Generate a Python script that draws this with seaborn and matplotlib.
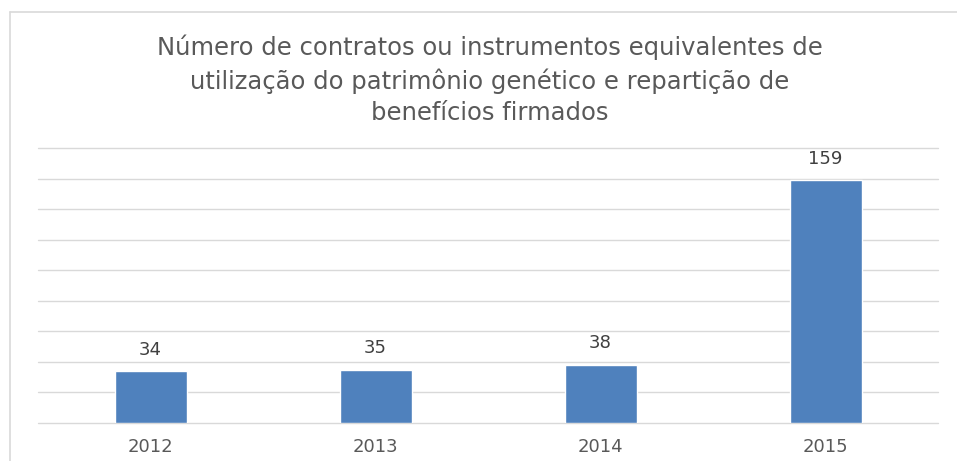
import seaborn as sns
import pandas as pd
import matplotlib.pyplot as plt
from matplotlib.lines import Line2D

anos = ['2012', '2013', '2014', '2015']
contratos = [34, 35, 38, 159]
titulo = ('Número de contratos ou instrumentos equivalentes de\n'
          'utilização do patrimônio genético e repartição de\n'
          'benefícios firmados')

df = pd.DataFrame({'ano': anos, 'contratos': contratos})

sns.set_style('white')
plt.rcParams['font.family'] = ['DejaVu Sans']

W, H = 957, 461
fig = plt.figure(figsize=(W / 100, H / 100), dpi=100)
ax = fig.add_axes([38 / W, 1 - 423 / H, 900 / W, (423 - 148) / H])

sns.barplot(data=df, x='ano', y='contratos', color='#4F81BD', width=0.32,
            saturation=1, ax=ax, zorder=3)

ax.set_ylim(0, 180)
ax.set_yticks(range(0, 181, 20))
ax.yaxis.grid(True, color='#D9D9D9', linewidth=1)
for gl in ax.get_ygridlines():
    gl.set_clip_on(False)
ax.set_axisbelow(True)
ax.tick_params(axis='y', left=False, labelleft=False)
ax.tick_params(axis='x', bottom=False, labelsize=13, colors='#595959', pad=7)
ax.set_xlabel('')
ax.set_ylabel('')
for s in ax.spines.values():
    s.set_visible(False)

for p, v in zip(ax.patches, contratos):
    ax.annotate(str(v), (p.get_x() + p.get_width() / 2, v),
                xytext=(0, 9), textcoords='offset points',
                ha='center', va='bottom', fontsize=13, color='#404040')

fig.text(490 / W, 1 - 80 / H, titulo, ha='center', va='center',
         fontsize=17.5, color='#595959', linespacing=1.4)

# moldura do gráfico (cortada à direita e embaixo)
fig.add_artist(Line2D([10 / W, 10 / W], [0, 1 - 12 / H], transform=fig.transFigure,
                      color='#D9D9D9', linewidth=1.2))
fig.add_artist(Line2D([10 / W, 1], [1 - 12 / H, 1 - 12 / H], transform=fig.transFigure,
                      color='#D9D9D9', linewidth=1.2))

fig.savefig('out.png', dpi=100, facecolor='white')
